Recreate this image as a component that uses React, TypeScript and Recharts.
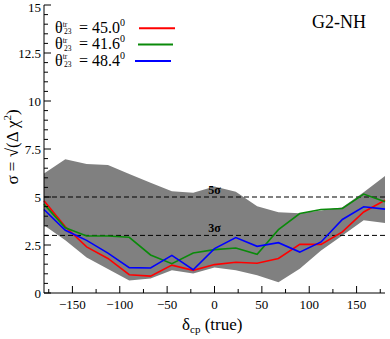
import { ComposedChart, Area, Line, XAxis, YAxis, ReferenceLine } from 'recharts';

const FONT = '"Liberation Serif", "DejaVu Serif", serif';

// delta_cp (true) grid in degrees
const deltaCP = [-180, -157.5, -135, -112.5, -90, -67.5, -45, -22.5, 0, 22.5, 45, 67.5, 90, 112.5, 135, 157.5, 180];

// sigma for each theta23 (true)
const sig45 = [4.8, 3.45, 2.4, 1.8, 0.95, 0.88, 1.45, 1.18, 1.48, 1.6, 1.55, 1.8, 2.53, 2.53, 3.18, 4.22, 4.83];
const sig416 = [4.63, 3.4, 2.97, 2.97, 2.9, 1.98, 1.53, 2.08, 2.26, 2.34, 2.02, 3.3, 4.14, 4.35, 4.4, 5.15, 4.75];
const sig484 = [4.35, 3.27, 2.74, 2.08, 1.32, 1.3, 1.96, 1.21, 2.31, 2.89, 2.43, 2.62, 2.13, 2.66, 3.83, 4.49, 4.37];

// grey band (range over parameter space)
const bandLow = [3.53, 2.75, 1.85, 1.25, 0.65, 0.76, 1.19, 1.01, 1.33, 1.18, 0.92, 0.56, 1.26, 2.22, 3.0, 3.79, 3.65];
const bandHigh = [6.23, 6.96, 6.72, 6.67, 6.2, 5.74, 5.3, 5.22, 5.55, 5.27, 4.52, 4.2, 4.16, 4.3, 4.47, 5.25, 6.1];

const xMajor = [-150, -100, -50, 0, 50, 100, 150];
const yMajor = [0, 2.5, 5, 7.5, 10, 12.5, 15];
const xMinor = Array.from({ length: 15 }, (_, i) => -175 + i * 25);
const yMinor = Array.from({ length: 31 }, (_, i) => i * 0.5);

const legendVals = ['45.0', '41.6', '48.4'];
const legendColors = ['#ff0000', '#0a8a0a', '#0000ff'];

const data = deltaCP.map((d, i) => ({
  d,
  band: [bandLow[i], bandHigh[i]],
  s45: sig45[i],
  s416: sig416[i],
  s484: sig484[i],
}));

const fmtX = (v: number) => (v < 0 ? `\u2212${-v}` : `${v}`);

const BottomTick = (p: any) => {
  const v = p.payload.value;
  const major = xMajor.includes(v);
  return (
    <g>
      <line x1={p.x} x2={p.x} y1={p.y} y2={p.y - (major ? 7 : 4)} stroke="#000" />
      {major && (
        <text x={p.x} y={p.y + 16} textAnchor="middle" fontSize={13} fontFamily={FONT} fill="#000">
          {fmtX(v)}
        </text>
      )}
    </g>
  );
};

const TopTick = (p: any) => {
  const major = xMajor.includes(p.payload.value);
  return <line x1={p.x} x2={p.x} y1={p.y} y2={p.y + (major ? 7 : 4)} stroke="#000" />;
};

const LeftTick = (p: any) => {
  const v = p.payload.value;
  const major = yMajor.includes(v);
  return (
    <g>
      <line x1={p.x} x2={p.x + (major ? 7 : 4)} y1={p.y} y2={p.y} stroke="#000" />
      {major && (
        <text x={p.x - 3} y={Math.max(p.y + 4.5, 11.5)} textAnchor="end" fontSize={13} fontFamily={FONT} fill="#000">
          {v}
        </text>
      )}
    </g>
  );
};

const RightTick = (p: any) => {
  const major = yMajor.includes(p.payload.value);
  return <line x1={p.x} x2={p.x - (major ? 7 : 4)} y1={p.y} y2={p.y} stroke="#000" />;
};

const sampleX = [
  [139, 175],
  [138, 173],
  [135, 171],
];

export default function App() {
  return (
    <div style={{ position: 'absolute', left: 0, top: 0, width: 390, height: 339, background: '#fff' }}>
      <ComposedChart width={390} height={339} data={data} margin={{ top: 5, right: 5, bottom: 0, left: 0 }}>
        <XAxis
          dataKey="d"
          type="number"
          domain={[-180, 180]}
          ticks={xMinor}
          interval={0}
          tickSize={0}
          tickMargin={0}
          tickLine={false}
          tick={BottomTick}
          height={46}
          axisLine={{ stroke: '#000' }}
        />
        <XAxis
          xAxisId="top"
          orientation="top"
          type="number"
          domain={[-180, 180]}
          ticks={xMinor}
          interval={0}
          tickSize={0}
          tickMargin={0}
          tickLine={false}
          tick={TopTick}
          height={0}
          axisLine={{ stroke: '#000' }}
        />
        <YAxis
          type="number"
          domain={[0, 15]}
          ticks={yMinor}
          interval={0}
          tickSize={0}
          tickMargin={0}
          tickLine={false}
          tick={LeftTick}
          width={44}
          axisLine={{ stroke: '#000' }}
        />
        <YAxis
          yAxisId="right"
          orientation="right"
          type="number"
          domain={[0, 15]}
          ticks={yMinor}
          interval={0}
          tickSize={0}
          tickMargin={0}
          tickLine={false}
          tick={RightTick}
          width={0}
          axisLine={{ stroke: '#000' }}
        />
        <Area
          dataKey="band"
          type="linear"
          fill="#808080"
          fillOpacity={1}
          stroke="none"
          isAnimationActive={false}
        />
        <ReferenceLine
          y={5}
          stroke="#000"
          strokeDasharray="5 3"
          label={{ value: '5\u03c3', position: 'top', fontSize: 12, fontWeight: 'bold', fontFamily: FONT, fill: '#000', offset: 3 }}
        />
        <ReferenceLine
          y={3}
          stroke="#000"
          strokeDasharray="5 3"
          label={{ value: '3\u03c3', position: 'top', fontSize: 12, fontWeight: 'bold', fontFamily: FONT, fill: '#000', offset: 3 }}
        />
        <Line dataKey="s45" type="linear" stroke="#ff0000" strokeWidth={1.6} dot={false} isAnimationActive={false} />
        <Line dataKey="s416" type="linear" stroke="#0a8a0a" strokeWidth={1.6} dot={false} isAnimationActive={false} />
        <Line dataKey="s484" type="linear" stroke="#0000ff" strokeWidth={1.6} dot={false} isAnimationActive={false} />
      </ComposedChart>
      <svg
        width={390}
        height={339}
        style={{ position: 'absolute', left: 0, top: 0, pointerEvents: 'none' }}
        fontFamily={FONT}
      >
        {legendVals.map((val, i) => {
          const b = 33 + i * 16.3;
          return (
            <g key={val}>
              <text x={55} y={b} fontSize={16}>
                {'\u03b8'}
                <tspan fontSize={7.5} dy={-6.5}>tr</tspan>
                <tspan fontSize={7.5} x={64} dy={7.9}>23</tspan>
                <tspan fontSize={16} x={79} dy={-1.4}>{`= ${val}`}</tspan>
                <tspan fontSize={10} dy={-7}>0</tspan>
              </text>
              <line
                x1={sampleX[i][0]}
                x2={sampleX[i][1]}
                y1={b - 4.7}
                y2={b - 4.7}
                stroke={legendColors[i]}
                strokeWidth={2}
              />
            </g>
          );
        })}
        <text x={312} y={27.5} fontSize={18}>G2-NH</text>
        <text transform="translate(18,147) rotate(-90)" textAnchor="middle" fontSize={17}>
          {'\u03c3 = \u221a(\u0394 \u03c7'}
          <tspan fontSize={11} dy={-7}>2</tspan>
          <tspan dy={7}>)</tspan>
        </text>
        <text x={182} y={330} fontSize={17}>
          {'\u03b4'}
          <tspan fontSize={11} dy={3}>cp</tspan>
          <tspan dy={-3}> (true)</tspan>
        </text>
      </svg>
    </div>
  );
}
